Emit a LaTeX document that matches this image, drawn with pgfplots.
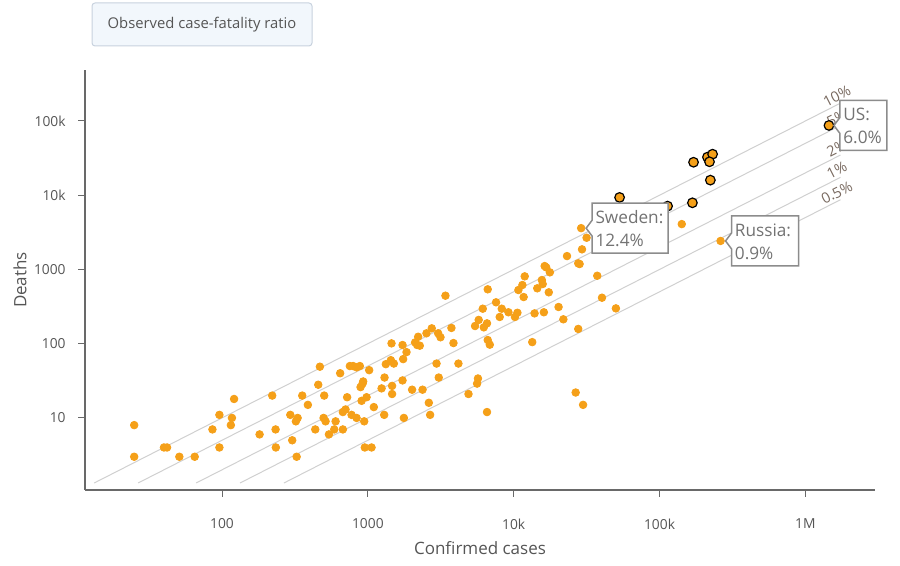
\documentclass[border=0pt]{standalone}
\usepackage{fontspec}
\setmainfont{Open Sans}
\usepackage{pgfplots}
\pgfplotsset{compat=1.18}

\definecolor{dot}{RGB}{245,160,25}
\definecolor{axisgray}{RGB}{105,105,105}
\definecolor{refline}{RGB}{208,208,208}
\definecolor{txt}{RGB}{85,85,85}
\definecolor{boxblue}{RGB}{242,247,252}
\definecolor{boxedge}{RGB}{200,210,222}
\definecolor{calloutedge}{RGB}{140,140,140}
\definecolor{callouttxt}{RGB}{115,115,115}
\definecolor{pct}{RGB}{120,105,95}

% confirmed cases vs deaths, one row per country
\pgfplotstableread{
cases deaths
25 8
25 3
40 4
42 4
51 3
65 3
86 7
96 11
96 4
117 10
115 8
121 18
181 6
221 20
233 7
234 4
294 11
330 10
321 9
303 5
325 3
355 20
388 15
436 7
469 49
457 28
502 20
497 10
513 9
541 6
588 7
601 9
646 40
674 12
703 13
674 7
721 19
753 50
793 50
837 48
881 50
773 11
837 10
891 26
920 29
929 31
906 17
980 19
1021 44
944 9
953 4
1060 4
1099 14
1301 35
1242 25
1328 53
1438 60
1507 54
1294 11
1453 101
1466 27
1466 21
1729 96
1746 62
1841 77
1729 32
1766 10
2011 24
2109 104
2213 124
2177 96
2270 94
2371 24
2523 138
2618 16
2673 11
2742 161
2958 54
3034 138
3148 122
3062 35
3404 443
3741 163
3864 102
4178 54
4898 21
5433 173
5754 209
6237 166
6561 188
5610 29
5689 34
6137 296
6637 540
6637 112
6855 97
6561 12
7568 361
8017 229
8279 296
9204 265
10200 229
10600 261
10770 528
11470 617
11700 425
11900 807
13400 105
13900 256
14500 557
15600 720
15800 636
16100 265
16300 1111
16700 1067
17700 914
17400 492
20300 312
21900 213
23200 1514
26600 22
29900 15
27700 1208
27700 158
29000 3600
31600 2673
29400 1866
28300 1183
37400 822
40300 416
50200 299
142000 4083
262000 2420
}\others

% countries drawn with an outline
\pgfplotstableread{
cases deaths
53200 9333
113500 7130
168000 7902
171000 27800
213000 32600
231000 35700
220000 28200
223000 15960
1450000 87000
}\outlined

\newcommand{\callout}[4]{% point, box width (px), line 1, line 2
  \begin{scope}[shift={(#1)}, x=0.5pt, y=-0.5pt]
    \draw[calloutedge, line width=0.75pt, fill=white]
      (5,0) -- (11,-8) -- (11,-25) -- (11+#2,-25) -- (11+#2,25) -- (11,25) -- (11,8) -- cycle;
    \node[anchor=west, text=callouttxt, inner sep=0pt,
      font=\fontsize{8.6}{10}\selectfont] at (14,-11) {#3};
    \node[anchor=west, text=callouttxt, inner sep=0pt,
      font=\fontsize{8.6}{10}\selectfont] at (14,12) {#4};
  \end{scope}}

\begin{document}
\begin{tikzpicture}
\path[use as bounding box] (0,0) rectangle (450pt,283pt);

\begin{axis}[
  at={(42.5pt,38pt)}, anchor=south west,
  scale only axis, width=395pt, height=210pt,
  xmode=log, ymode=log,
  xmin=11.5, xmax=3000000,
  ymin=1.07, ymax=486000,
  axis lines*=left,
  axis line style={-, axisgray, line width=0.75pt},
  tick align=outside,
  major tick length=3.5pt,
  tick style={axisgray, line width=0.5pt},
  xminorticks=false, yminorticks=false,
  xtick={100,1000,10000,100000,1000000},
  xticklabels={100,1000,10k,100k,1M},
  ytick={10,100,1000,10000,100000},
  yticklabels={10,100,1000,10k,100k},
  ticklabel style={text=txt, inner sep=0pt, font=\fontsize{6.9}{8}\selectfont},
  xticklabel style={anchor=center, yshift=-13.5pt},
  yticklabel style={anchor=east, xshift=-6pt},
  xlabel={Confirmed cases},
  ylabel={Deaths},
  label style={text=txt, font=\fontsize{8.5}{10}\selectfont},
  xlabel style={at={(axis description cs:0.5,-0.138)}, anchor=center},
  ylabel style={at={(axis description cs:-0.0823,0.5)}, anchor=center},
  clip=false,
]
  % constant case-fatality ratios
  \addplot[refline, line width=0.5pt] coordinates {(13.3,1.33) (1740000,174000)}
    node[pos=1, sloped, anchor=south, inner sep=1pt, text=pct, font=\fontsize{7.3}{8}\selectfont] {10\%};
  \addplot[refline, line width=0.5pt] coordinates {(26.6,1.33) (1740000,87000)}
    node[pos=1, sloped, anchor=south, inner sep=1pt, text=pct, font=\fontsize{7.3}{8}\selectfont] {5\%};
  \addplot[refline, line width=0.5pt] coordinates {(66.5,1.33) (1740000,34800)}
    node[pos=1, sloped, anchor=south, inner sep=1pt, text=pct, font=\fontsize{7.3}{8}\selectfont] {2\%};
  \addplot[refline, line width=0.5pt] coordinates {(133,1.33) (1740000,17400)}
    node[pos=1, sloped, anchor=south, inner sep=1pt, text=pct, font=\fontsize{7.3}{8}\selectfont] {1\%};
  \addplot[refline, line width=0.5pt] coordinates {(266,1.33) (1740000,8700)}
    node[pos=1, sloped, anchor=south, inner sep=1pt, text=pct, font=\fontsize{7.3}{8}\selectfont] {0.5\%};

  \addplot[only marks, color=dot, mark=*, mark size=1.9pt,
    mark options={solid, fill=dot, draw=dot, line width=0.4pt}] table[x=cases, y=deaths] {\others};
  \addplot[only marks, mark=*, mark size=2.4pt,
    mark options={solid, fill=dot, draw=black, line width=0.6pt}] table[x=cases, y=deaths] {\outlined};

  \coordinate (us) at (axis cs:1450000,87000);
  \coordinate (sweden) at (axis cs:29000,3600);
  \coordinate (russia) at (axis cs:262000,2420);
\end{axis}

\callout{us}{47}{US:}{6.0\%}
\callout{sweden}{76}{Sweden:}{12.4\%}
\callout{russia}{67}{Russia:}{0.9\%}

% title button, in pixel units from the top left
\begin{scope}[shift={(0,283pt)}, x=0.5pt, y=-0.5pt]
  \draw[boxedge, fill=boxblue, rounded corners=1.5pt, line width=0.5pt] (92,3) rectangle (312,46);
  \node[text=txt, font=\fontsize{7.4}{9}\selectfont] at (202,24.5) {Observed case-fatality ratio};
\end{scope}
\end{tikzpicture}
\end{document}
